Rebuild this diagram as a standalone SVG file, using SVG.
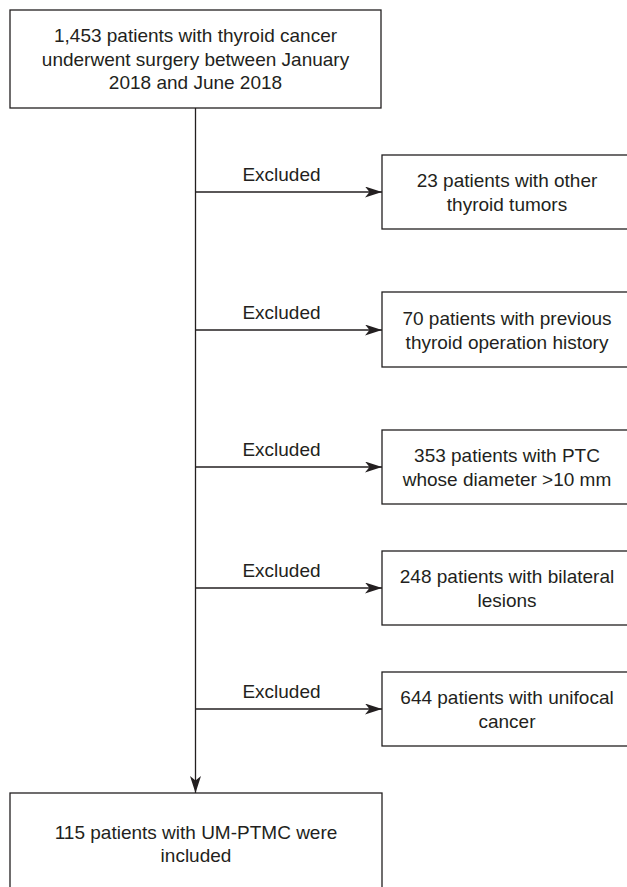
<svg xmlns="http://www.w3.org/2000/svg" width="627" height="887" viewBox="0 0 627 887">
  <style>
    .box { fill: #ffffff; stroke: #231f20; stroke-width: 1.3; }
    .txt { font-family: "Liberation Sans", Arial, sans-serif; font-size: 19px; fill: #231f20; text-anchor: middle; }
    .conn { stroke: #231f20; stroke-width: 1.3; fill: none; }
  </style>
  <defs>
    <marker id="arrow" markerUnits="userSpaceOnUse" markerWidth="18" markerHeight="12" refX="17" refY="5.5" orient="auto">
      <path d="M0,0 L17,5.5 L0,11 L4.5,5.5 z" fill="#231f20"/>
    </marker>
  </defs>
  <rect width="627" height="887" fill="#ffffff"/>
  <g id="connectors">
    <line class="conn" x1="195.5" y1="108" x2="195.5" y2="793" marker-end="url(#arrow)"/>
    <line class="conn" x1="195.5" y1="192" x2="382" y2="192" marker-end="url(#arrow)"/>
    <line class="conn" x1="195.5" y1="330" x2="382" y2="330" marker-end="url(#arrow)"/>
    <line class="conn" x1="195.5" y1="467" x2="382" y2="467" marker-end="url(#arrow)"/>
    <line class="conn" x1="195.5" y1="588" x2="382" y2="588" marker-end="url(#arrow)"/>
    <line class="conn" x1="195.5" y1="709" x2="382" y2="709" marker-end="url(#arrow)"/>
    <text class="txt" x="281.5" y="181">Excluded</text>
    <text class="txt" x="281.5" y="319">Excluded</text>
    <text class="txt" x="281.5" y="456">Excluded</text>
    <text class="txt" x="281.5" y="577">Excluded</text>
    <text class="txt" x="281.5" y="698">Excluded</text>
  </g>
  <g id="node-start">
    <rect class="box" x="10" y="10" width="371" height="98"/>
    <text class="txt" x="195.5" y="42">1,453 patients with thyroid cancer</text>
    <text class="txt" x="195.5" y="65.5">underwent surgery between January</text>
    <text class="txt" x="195.5" y="89">2018 and June 2018</text>
  </g>
  <g id="node-ex1">
    <rect class="box" x="382" y="155" width="250" height="74"/>
    <text class="txt" x="507" y="187">23 patients with other</text>
    <text class="txt" x="507" y="210.5">thyroid tumors</text>
  </g>
  <g id="node-ex2">
    <rect class="box" x="382" y="292" width="250" height="75"/>
    <text class="txt" x="507" y="325">70 patients with previous</text>
    <text class="txt" x="507" y="348.5">thyroid operation history</text>
  </g>
  <g id="node-ex3">
    <rect class="box" x="382" y="430" width="250" height="74"/>
    <text class="txt" x="507" y="462">353 patients with PTC</text>
    <text class="txt" x="507" y="485.5">whose diameter &gt;10 mm</text>
  </g>
  <g id="node-ex4">
    <rect class="box" x="382" y="551" width="250" height="74"/>
    <text class="txt" x="507" y="583">248 patients with bilateral</text>
    <text class="txt" x="507" y="606.5">lesions</text>
  </g>
  <g id="node-ex5">
    <rect class="box" x="382" y="672" width="250" height="74"/>
    <text class="txt" x="507" y="704">644 patients with unifocal</text>
    <text class="txt" x="507" y="727.5">cancer</text>
  </g>
  <g id="node-end">
    <rect class="box" x="10" y="793" width="372" height="100"/>
    <text class="txt" x="196" y="838.5">115 patients with UM-PTMC were</text>
    <text class="txt" x="196" y="861.5">included</text>
  </g>
</svg>
